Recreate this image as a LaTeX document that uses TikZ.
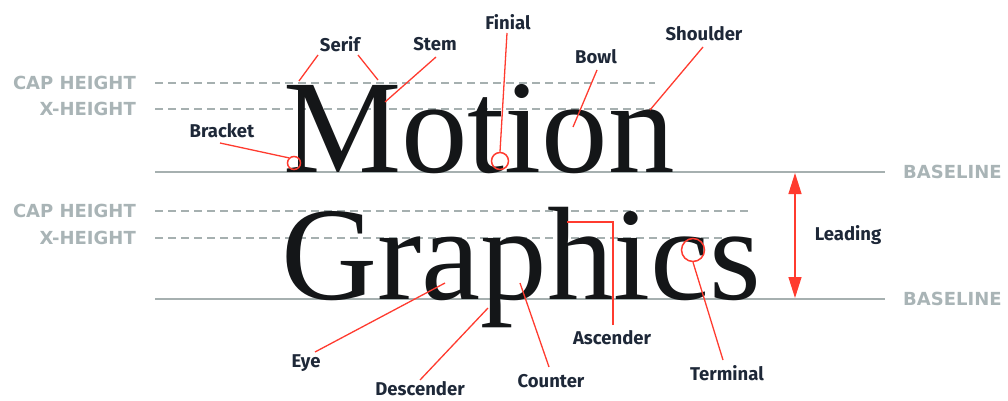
\documentclass[tikz,border=0pt]{standalone}
\usepackage{fontspec}
\setmainfont{Liberation Serif}
\newfontfamily\labfont{Fira Sans}
\newfontfamily\guidefont{DejaVu Sans}
\usetikzlibrary{arrows.meta}
\definecolor{redl}{HTML}{FF3B2F}
\definecolor{guidegray}{HTML}{A6B0B0}
\definecolor{guidetext}{HTML}{A9B4B6}
\definecolor{labdark}{HTML}{1E2838}
\definecolor{glyph}{HTML}{141618}
\begin{document}
\begin{tikzpicture}[x=1pt,y=-1pt,
  guide/.style={font=\guidefont\bfseries\fontsize{18}{18}\selectfont, text=guidetext, inner sep=0pt},
  lab/.style={font=\labfont\bfseries\fontsize{18.5}{18.5}\selectfont, text=labdark, inner sep=0pt},
  dashline/.style={draw=guidegray, line width=2pt, dash pattern=on 8pt off 5pt},
  baseline/.style={draw=guidegray, line width=2pt},
  lead/.style={draw=redl, line width=1.3pt},
  ring/.style={circle, draw=redl, line width=1.5pt, inner sep=0pt},
  word/.style={font=\fontsize{133}{133}\selectfont, text=glyph, inner sep=0pt, anchor=base west}]
\useasboundingbox (0,0) rectangle (1008,401);

% guide labels
\node[guide, anchor=east] (ch1) at (136,83) {CAP HEIGHT};
\node[guide, anchor=east] (xh1) at (136,109) {X-HEIGHT};
\node[guide, anchor=east] (ch2) at (136,211) {CAP HEIGHT};
\node[guide, anchor=east] (xh2) at (136,238) {X-HEIGHT};
\node[guide, anchor=west] (bl1) at (903,172) {BASELINE};
\node[guide, anchor=west] (bl2) at (903,299) {BASELINE};

% guide lines
\draw[dashline] (155,83) -- (655,83);
\draw[dashline] (155,109) -- (652,109);
\draw[baseline] (155,172) -- (885,172);
\draw[dashline] (155,211) -- (750,211);
\draw[dashline] (155,238) -- (740,238);
\draw[baseline] (155,299) -- (885,299);

% words
\node[word] (motion) at (283,172) {Motion};
\node[word] (graphics) at (281,299) {Graphics};

% labels
\node[lab] (serif) at (340,44) {Serif};
\node[lab] (stem) at (435,44) {Stem};
\node[lab] (finial) at (508,22) {Finial};
\node[lab] (bowl) at (596,57) {Bowl};
\node[lab] (shoulder) at (704,34) {Shoulder};
\node[lab] (bracket) at (222,131) {Bracket};
\node[lab] (leading) at (848,235) {Leading};
\node[lab] (eye) at (306,363) {Eye};
\node[lab] (descender) at (420,389) {Descender};
\node[lab] (counter) at (551,381) {Counter};
\node[lab] (ascender) at (612,338) {Ascender};
\node[lab] (terminal) at (727,373) {Terminal};

% rings
\node[ring, minimum size=17pt] (finring) at (500,161) {};
\node[ring, minimum size=13pt] (brring) at (294,163) {};
\node[ring, minimum size=23pt] (termring) at (693,250) {};

% anchor points
\coordinate (serA0) at (318,55); \coordinate (serA1) at (299,81);
\coordinate (serB0) at (358,55); \coordinate (serB1) at (378,80);
\coordinate (stem0) at (436,57); \coordinate (stem1) at (385,102);
\coordinate (fin0) at (507,33);
\coordinate (bowl0) at (597,70); \coordinate (bowl1) at (573,127);
\coordinate (sh0) at (703,47); \coordinate (sh1) at (650,110);
\coordinate (br0) at (220,143);
\coordinate (eye0) at (315,352); \coordinate (eye1) at (445,283);
\coordinate (des0) at (420,380); \coordinate (des1) at (488,308);
\coordinate (cou0) at (549,367); \coordinate (cou1) at (520,283);
\coordinate (asc0) at (613,325); \coordinate (asc1) at (613,222); \coordinate (asc2) at (567,222);
\coordinate (ter0) at (723,360);
\coordinate (lead0) at (795,173); \coordinate (lead1) at (795,298);

% leaders
\draw[lead] (serA0) -- (serA1);
\draw[lead] (serB0) -- (serB1);
\draw[lead] (stem0) -- (stem1);
\draw[lead] (fin0) -- (finring.north);
\draw[lead] (bowl0) -- (bowl1);
\draw[lead] (sh0) -- (sh1);
\draw[lead] (br0) -- (brring.north west);
\draw[lead] (eye0) -- (eye1);
\draw[lead] (des0) -- (des1);
\draw[lead] (cou0) -- (cou1);
\draw[lead] (asc0) -- (asc1) -- (asc2);
\draw[lead] (ter0) -- (termring.south);
\draw[lead, {Triangle[length=21pt,width=13pt]}-{Triangle[length=21pt,width=13pt]}] (lead0) -- (lead1);
\end{tikzpicture}
\end{document}
